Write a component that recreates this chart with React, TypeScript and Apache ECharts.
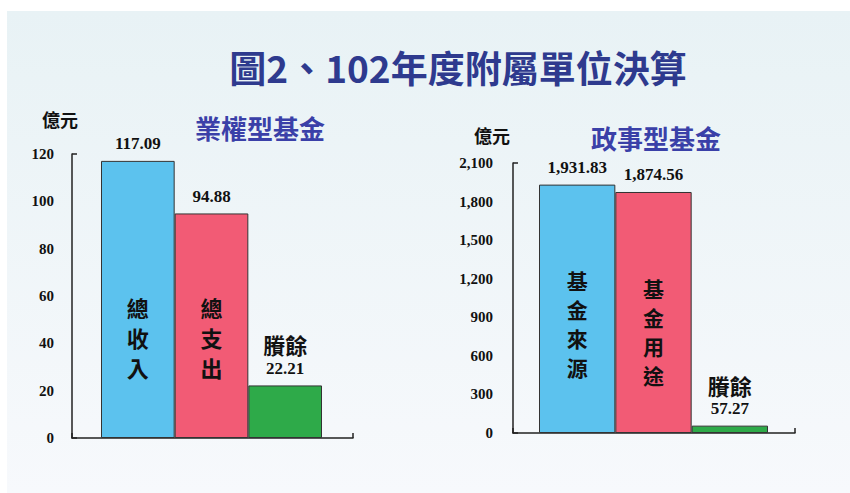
import { useEffect, useRef } from 'react';
import * as echarts from 'echarts';

// ---- data ----
const leftCategories = ['總收入', '總支出', '賸餘'];
const leftValues = [117.09, 94.88, 22.21];
const leftAxisRange = { min: 0, max: 120, interval: 20 };

const rightCategories = ['基金來源', '基金用途', '賸餘'];
const rightValues = [1931.83, 1874.56, 57.27];
const rightAxisRange = { min: 0, max: 2100, interval: 300 };

const surplusName = '賸餘';
const mainTitle = '圖2、102年度附屬單位決算';
const leftTitle = '業權型基金';
const rightTitle = '政事型基金';
const unitText = '億元';

// ---- styles ----
const barColors = ['#5cc2ee', '#f25b75', '#2eaa49'];
const numFont = '"Liberation Serif", serif';
const cjkFont = '"Noto Sans CJK TC", "Noto Sans CJK SC", sans-serif';
const axisColor = '#222';

const fmt2 = (v: number) =>
  v.toLocaleString('en-US', { minimumFractionDigits: 2, maximumFractionDigits: 2 });
const fmtInt = (v: number) => v.toLocaleString('en-US');

type PanelLayout = {
  axisLeft: number;
  axisWidth: number;
  top: number;
  height: number;
  barLeft: number;
  barWidth: number;
  labelMargin: number;
  insideDist: number[];
  insideFont: number;
  insideLineH: number;
  topDist: number;
};

const leftLayout: PanelLayout = {
  axisLeft: 72, axisWidth: 281, top: 154, height: 284,
  barLeft: 101, barWidth: 221, labelMargin: 18,
  insideDist: [56, 56, 0], insideFont: 22, insideLineH: 30, topDist: 7,
};
const rightLayout: PanelLayout = {
  axisLeft: 513, axisWidth: 282, top: 163, height: 270,
  barLeft: 539, barWidth: 229, labelMargin: 20,
  insideDist: [52, 44, 0], insideFont: 21, insideLineH: 29, topDist: 7,
};

function buildPanel(
  p: PanelLayout,
  gi: number,
  xi: number,
  yi: number,
  cats: string[],
  vals: number[],
  range: { min: number; max: number; interval: number },
  yFmt: (v: number) => string
) {
  const lineStyle = { color: axisColor, width: 1.5 };
  const grids = [
    { left: p.axisLeft, top: p.top, width: p.axisWidth, height: p.height, outerBoundsMode: 'none' },
    { left: p.barLeft, top: p.top, width: p.barWidth, height: p.height, outerBoundsMode: 'none' },
  ];
  const xAxes = [
    {
      gridIndex: gi, type: 'category', data: [''],
      axisLine: { show: true, lineStyle },
      axisTick: { show: true, inside: true, length: 5, lineStyle },
      axisLabel: { show: false },
    },
    { gridIndex: gi + 1, type: 'category', data: cats, show: false },
  ];
  const yAxes = [
    {
      gridIndex: gi, type: 'value', min: range.min, max: range.max, interval: range.interval,
      axisLine: { show: true, lineStyle },
      axisTick: { show: false },
      splitLine: { show: false },
      axisLabel: {
        margin: p.labelMargin, fontFamily: numFont, fontWeight: 'bold', fontSize: 15,
        color: '#111', formatter: (v: number) => yFmt(v),
      },
    },
    {
      gridIndex: gi, type: 'category', data: [''], position: 'left',
      axisLine: { show: false },
      axisTick: { show: true, inside: true, length: 5, lineStyle },
      axisLabel: { show: false },
    },
    { gridIndex: gi + 1, type: 'value', min: range.min, max: range.max, show: false },
  ];
  const series = [
    {
      type: 'bar', xAxisIndex: xi + 1, yAxisIndex: yi + 2,
      barCategoryGap: '0%', barGap: '-100%',
      data: vals.map((v, i) => ({
        value: v,
        itemStyle: { color: barColors[i] },
        label: { distance: p.insideDist[i] },
      })),
      itemStyle: { borderColor: '#333', borderWidth: 1 },
      label: {
        show: true, position: 'insideBottom',
        formatter: (d: any) => (d.name === surplusName ? '' : d.name.split('').join('\n')),
        fontFamily: cjkFont, fontWeight: 'bold', fontSize: p.insideFont,
        lineHeight: p.insideLineH, color: '#111',
      },
      z: 2,
    },
    {
      type: 'bar', xAxisIndex: xi + 1, yAxisIndex: yi + 2,
      barCategoryGap: '0%', barGap: '-100%',
      data: vals,
      silent: true,
      itemStyle: { color: 'rgba(0,0,0,0)' },
      label: {
        show: true, position: 'top', distance: p.topDist,
        formatter: (d: any) =>
          d.name === surplusName
            ? `{n|${d.name}}\n{v|${fmt2(d.value)}}`
            : `{v|${fmt2(d.value)}}`,
        rich: {
          n: { fontFamily: cjkFont, fontWeight: 'bold', fontSize: 22, lineHeight: 28, color: '#111' },
          v: { fontFamily: numFont, fontWeight: 'bold', fontSize: 17, lineHeight: 20, color: '#111' },
        },
      },
      z: 3,
    },
  ];
  return { grids, xAxes, yAxes, series };
}

export default function App() {
  const ref = useRef<HTMLDivElement>(null);
  useEffect(() => {
    if (!ref.current) return;
    const chart = echarts.init(ref.current, undefined, { renderer: 'svg' });
    const L = buildPanel(leftLayout, 0, 0, 0, leftCategories, leftValues, leftAxisRange, (v) => String(v));
    const R = buildPanel(rightLayout, 2, 2, 3, rightCategories, rightValues, rightAxisRange, fmtInt);

    const text = (t: string, x: number, y: number, size: number, fill: string) => ({
      type: 'text', x, y, z: 5, silent: true,
      style: {
        text: t, fill, fontSize: size, fontWeight: 'bold', fontFamily: cjkFont,
        align: 'center', verticalAlign: 'middle',
      },
    });

    chart.setOption({
      animation: false,
      backgroundColor: '#ffffff',
      graphic: [
        {
          type: 'rect', z: -100, silent: true,
          shape: { x: 7, y: 11, width: 843, height: 482 },
          style: {
            fill: new echarts.graphic.LinearGradient(0, 0, 0, 1, [
              { offset: 0, color: '#e8f2f5' },
              { offset: 1, color: '#f7f9fc' },
            ]),
          },
        },
        text(mainTitle, 458, 67, 37, '#2e3a8e'),
        text(leftTitle, 260, 127, 26, '#3a40a8'),
        text(rightTitle, 656, 137, 26, '#3a40a8'),
        text(unitText, 60, 119, 18, '#111'),
        text(unitText, 492, 135, 18, '#111'),
      ],
      grid: [...L.grids, ...R.grids],
      xAxis: [...L.xAxes, ...R.xAxes],
      yAxis: [...L.yAxes, ...R.yAxes],
      series: [...L.series, ...R.series],
    } as any);
    return () => chart.dispose();
  }, []);
  return (
    <div
      ref={ref}
      style={{ position: 'fixed', left: 0, top: 0, width: 850, height: 493 }}
    />
  );
}
